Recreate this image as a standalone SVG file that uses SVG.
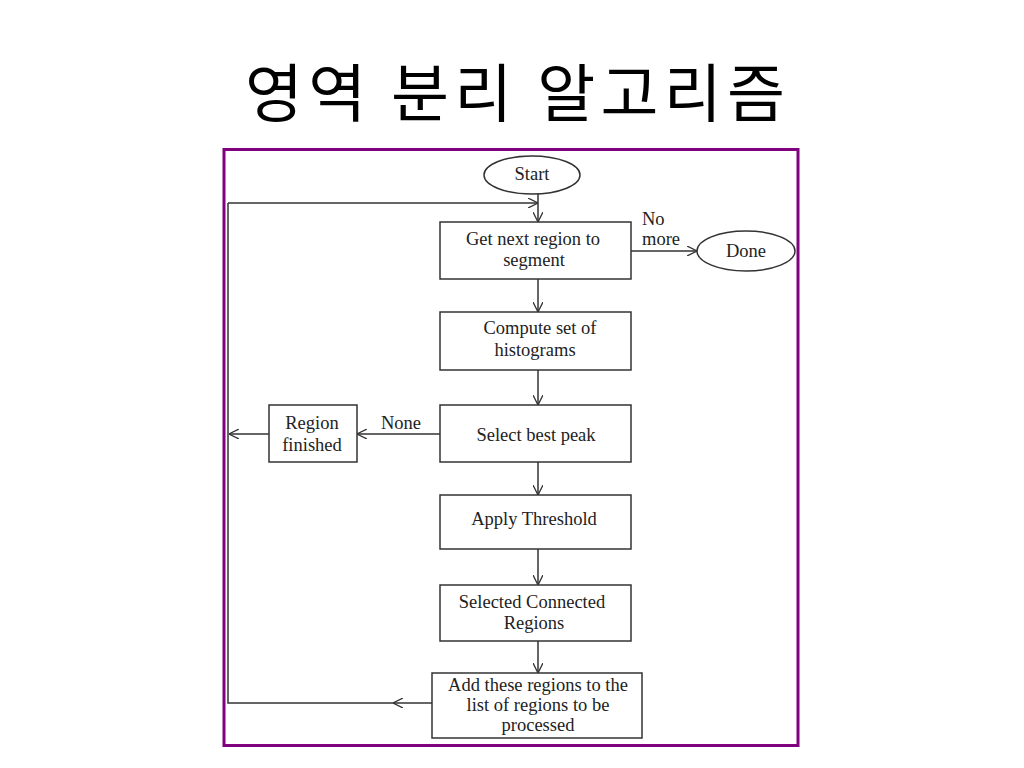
<svg xmlns="http://www.w3.org/2000/svg" width="1024" height="768" viewBox="0 0 1024 768">
<style>
.title{font-family:"Noto Sans CJK KR","Noto Sans",sans-serif;font-size:63px;fill:#000}
.box{fill:#fff;stroke:#333;stroke-width:1.5}
.lbl{font-family:"Liberation Serif","Times New Roman",serif;font-size:18.5px;fill:#222;text-anchor:middle}
.note{font-family:"Liberation Serif","Times New Roman",serif;font-size:18.5px;fill:#222}
.ln{fill:none;stroke:#333;stroke-width:1.5}
</style>
<defs>
<marker id="arr" viewBox="0 0 10 10" refX="10" refY="5" markerWidth="10" markerHeight="10" markerUnits="userSpaceOnUse" orient="auto">
<path d="M0,0 L10,5 L0,10" fill="none" stroke="#333" stroke-width="1.3"/>
</marker>
</defs>
<rect width="1024" height="768" fill="#fff"/>
<text class="title" x="245" y="116" textLength="540" lengthAdjust="spacing">영역 분리 알고리즘</text>
<rect x="224" y="149.5" width="574" height="596" fill="none" stroke="#800080" stroke-width="3"/>

<g id="connectors">
<line class="ln" x1="538" y1="194" x2="538" y2="222" marker-end="url(#arr)"/>
<line class="ln" x1="228" y1="203" x2="538" y2="203" marker-end="url(#arr)"/>
<line class="ln" x1="631" y1="251" x2="697" y2="251" marker-end="url(#arr)"/>
<line class="ln" x1="538" y1="279" x2="538" y2="312" marker-end="url(#arr)"/>
<line class="ln" x1="538" y1="370" x2="538" y2="405" marker-end="url(#arr)"/>
<line class="ln" x1="440" y1="434" x2="357" y2="434" marker-end="url(#arr)"/>
<line class="ln" x1="269" y1="434" x2="229" y2="434" marker-end="url(#arr)"/>
<line class="ln" x1="538" y1="462" x2="538" y2="495" marker-end="url(#arr)"/>
<line class="ln" x1="538" y1="549" x2="538" y2="585" marker-end="url(#arr)"/>
<line class="ln" x1="538" y1="641" x2="538" y2="673" marker-end="url(#arr)"/>
<line class="ln" x1="432" y1="703" x2="393" y2="703" marker-end="url(#arr)"/>
<polyline class="ln" points="395,703 228,703 228,203"/>
<text class="note" x="642" y="225">No</text>
<text class="note" x="642" y="245">more</text>
<text class="note" x="381" y="429">None</text>
</g>

<g id="start">
<ellipse class="box" cx="532" cy="175" rx="48" ry="19"/>
<text class="lbl" x="532" y="180">Start</text>
</g>
<g id="get-next">
<rect class="box" x="440" y="222" width="191" height="57"/>
<text class="lbl" x="533" y="245">Get next region to</text>
<text class="lbl" x="534" y="266">segment</text>
</g>
<g id="done">
<ellipse class="box" cx="746" cy="251" rx="49" ry="20"/>
<text class="lbl" x="746" y="257">Done</text>
</g>
<g id="compute">
<rect class="box" x="440" y="312" width="191" height="58"/>
<text class="lbl" x="540" y="334">Compute set of</text>
<text class="lbl" x="535" y="356">histograms</text>
</g>
<g id="select-peak">
<rect class="box" x="440" y="405" width="191" height="57"/>
<text class="lbl" x="536" y="441">Select best peak</text>
</g>
<g id="region-finished">
<rect class="box" x="269" y="405" width="88" height="57"/>
<text class="lbl" x="312" y="429">Region</text>
<text class="lbl" x="312" y="451">finished</text>
</g>
<g id="threshold">
<rect class="box" x="440" y="495" width="191" height="54"/>
<text class="lbl" x="534" y="525">Apply Threshold</text>
</g>
<g id="connected">
<rect class="box" x="440" y="585" width="191" height="56"/>
<text class="lbl" x="532" y="608">Selected Connected</text>
<text class="lbl" x="534" y="629">Regions</text>
</g>
<g id="add-regions">
<rect class="box" x="432" y="673" width="210" height="65"/>
<text class="lbl" x="538" y="691">Add these regions to the</text>
<text class="lbl" x="538" y="711">list of regions to be</text>
<text class="lbl" x="538" y="731">processed</text>
</g>
</svg>
